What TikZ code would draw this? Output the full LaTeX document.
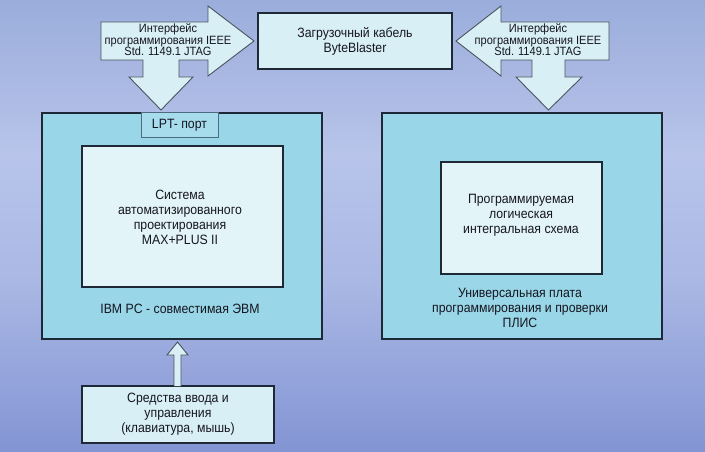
\documentclass[tikz,border=0pt]{standalone}
\usepackage{fontspec}
\setmainfont{Liberation Sans}
\newfontfamily\mainnarrow[FakeStretch=0.91]{Liberation Sans}
\newfontfamily\arrownarrow[FakeStretch=0.92]{Liberation Sans}
\definecolor{cTop}{HTML}{9AADDB}
\definecolor{cMid}{HTML}{B8C4EA}
\definecolor{cMidb}{HTML}{AAB8E4}
\definecolor{cBot}{HTML}{8394D4}
\definecolor{boxcyan}{HTML}{98D6E8}
\definecolor{lptfill}{HTML}{A6DCEC}
\definecolor{innerfill}{HTML}{E2F4F8}
\definecolor{lightfill}{HTML}{D8EFF5}
\definecolor{edge}{HTML}{1E2836}
\definecolor{lptedge}{HTML}{4E6A80}
\definecolor{txt}{HTML}{16161F}
\pgfdeclareverticalshading{bgshade}{100bp}{color(0bp)=(cBot); color(25bp)=(cBot); color(44bp)=(cMidb); color(58bp)=(cMid); color(75bp)=(cTop); color(100bp)=(cTop)}
\tikzset{
  bigbox/.style={draw=edge, line width=2.4pt, fill=boxcyan, rectangle, inner sep=0pt},
  innerbox/.style={draw=edge, line width=2pt, fill=innerfill, rectangle, inner sep=0pt},
  lightbox/.style={draw=edge, line width=1.5pt, fill=lightfill, rectangle, inner sep=0pt},
  lptbox/.style={draw=lptedge, line width=1pt, fill=lptfill, rectangle, inner sep=0pt},
  blockarrow/.style={draw=edge!80, line width=0.9pt, fill=lightfill, line join=miter},
  maintext/.style={text=txt, align=center, font=\mainnarrow\fontsize{13.5}{15}\selectfont},
  arrowtext/.style={text=txt, align=center, font=\arrownarrow\fontsize{12}{11.5}\selectfont},
}
\begin{document}
\begin{tikzpicture}[x=1pt,y=-1pt]
\useasboundingbox (0,0) rectangle (705,452);
\fill[shading=bgshade] (0,0) rectangle (705,452);

% big boxes
\node[bigbox, minimum width=280pt, minimum height=226pt] (pc) at (182,226) {};
\node[bigbox, minimum width=280pt, minimum height=226pt] (board) at (522,226) {};
\node[lptbox, minimum width=77pt, minimum height=24pt, maintext] (lpt) at (179.5,125) {LPT- порт};
\node[innerbox, minimum width=201pt, minimum height=141pt] (cad) at (182.5,216.5) {};
\node[maintext] (cadtext) at (180,217) {Система\\автоматизированного\\проектирования\\MAX+PLUS II};
\node[maintext] (pclabel) at (180,309) {IBM PC - совместимая ЭВМ};
\node[innerbox, minimum width=161pt, minimum height=112pt] (chip) at (521.5,218) {};
\node[maintext] (chiptext) at (521,215) {Программируемая\\логическая\\интегральная схема};
\node[maintext] (boardlabel) at (520,308) {Универсальная плата\\программирования и проверки\\ПЛИС};

% cable
\node[lightbox, minimum width=194pt, minimum height=56pt, maintext] (cable) at (355,41) {Загрузочный кабель\\ByteBlaster};

% left block arrow
\draw[blockarrow] (101,22) -- (208,22) -- (208,6) -- (254,41) -- (208,76) -- (208,60)
  -- (179,60) -- (179,77) -- (193,77) -- (161,110) -- (129,77) -- (143,77) -- (143,60)
  -- (101,60) -- cycle;
\node[arrowtext] (jtagl) at (168,40) {Интерфейс\\программирования IEEE\\Std. 1149.1 JTAG};

% right block arrow
\draw[blockarrow] (609,22) -- (501,22) -- (501,6) -- (456,41) -- (501,76) -- (501,60)
  -- (532,60) -- (532,77) -- (516,77) -- (548.5,110) -- (582,77) -- (565,77) -- (565,60)
  -- (609,60) -- cycle;
\node[arrowtext] (jtagr) at (538,40) {Интерфейс\\программирования IEEE\\Std. 1149.1 JTAG};

% input devices
\node[lightbox, line width=1.2pt, minimum width=192pt, minimum height=57pt, maintext] (input) at (178,414.5) {Средства ввода и\\управления\\(клавиатура, мышь)};
\draw[blockarrow] (174,386) -- (174,355) -- (167,355) -- (177.5,342) -- (188,355) -- (181,355) -- (181,386);
\end{tikzpicture}
\end{document}
